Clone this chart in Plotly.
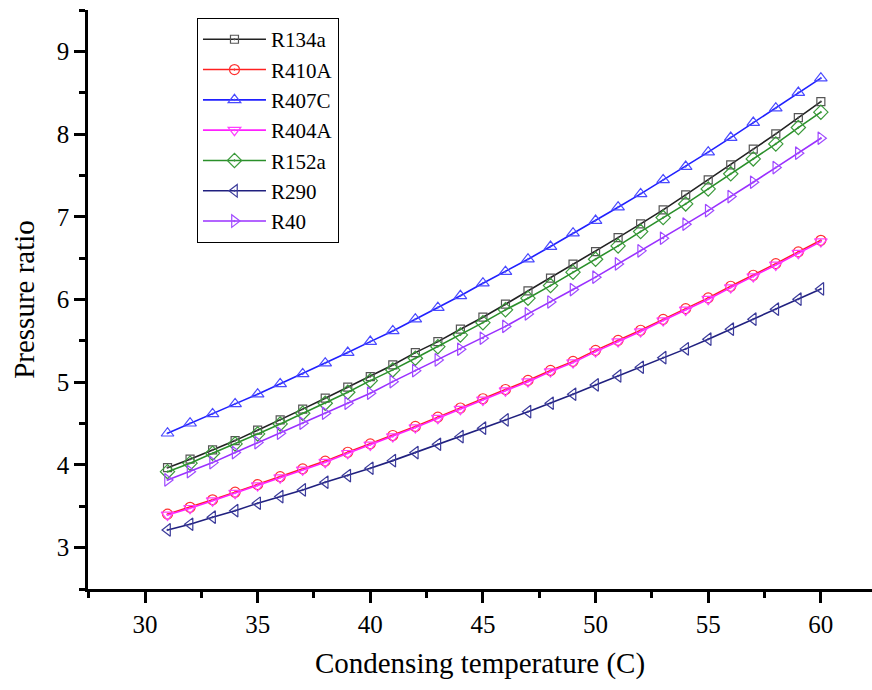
import plotly.graph_objects as go

temps = list(range(31, 61))

r134a = [3.967, 4.069, 4.181, 4.294, 4.420, 4.545, 4.675, 4.807, 4.940, 5.068,
         5.209, 5.358, 5.491, 5.641, 5.786, 5.943, 6.104, 6.258, 6.427, 6.579,
         6.748, 6.914, 7.083, 7.265, 7.446, 7.628, 7.817, 8.002, 8.199, 8.393]
r410a = [3.405, 3.488, 3.578, 3.670, 3.762, 3.858, 3.952, 4.046, 4.153, 4.255,
         4.356, 4.465, 4.578, 4.688, 4.800, 4.912, 5.022, 5.142, 5.252, 5.385,
         5.506, 5.628, 5.760, 5.890, 6.020, 6.160, 6.293, 6.434, 6.576, 6.716]
r407c = [4.383, 4.504, 4.617, 4.738, 4.855, 4.979, 5.100, 5.230, 5.358, 5.491,
         5.620, 5.762, 5.902, 6.045, 6.197, 6.337, 6.487, 6.640, 6.802, 6.954,
         7.116, 7.277, 7.446, 7.607, 7.781, 7.958, 8.139, 8.313, 8.502, 8.676]
r404a = [3.395, 3.476, 3.568, 3.658, 3.750, 3.846, 3.940, 4.033, 4.141, 4.242,
         4.342, 4.451, 4.565, 4.674, 4.786, 4.898, 5.007, 5.128, 5.237, 5.370,
         5.491, 5.612, 5.745, 5.874, 6.004, 6.144, 6.277, 6.418, 6.560, 6.700]
r152a = [3.919, 4.021, 4.141, 4.254, 4.375, 4.496, 4.625, 4.746, 4.879, 5.019,
         5.149, 5.290, 5.430, 5.572, 5.720, 5.875, 6.016, 6.168, 6.330, 6.487,
         6.648, 6.821, 6.990, 7.156, 7.337, 7.519, 7.700, 7.881, 8.079, 8.265]
r290 = [3.214, 3.283, 3.368, 3.447, 3.537, 3.617, 3.698, 3.791, 3.871, 3.960,
        4.052, 4.149, 4.250, 4.342, 4.444, 4.544, 4.644, 4.746, 4.855, 4.967,
        5.076, 5.181, 5.297, 5.403, 5.520, 5.641, 5.762, 5.883, 6.004, 6.128]
r40 = [3.819, 3.919, 4.028, 4.149, 4.270, 4.383, 4.504, 4.625, 4.746, 4.867,
       5.007, 5.140, 5.270, 5.399, 5.532, 5.675, 5.826, 5.970, 6.120, 6.270,
       6.430, 6.588, 6.741, 6.911, 7.075, 7.244, 7.418, 7.595, 7.769, 7.950]

series = [
    ("R134a", r134a, "#222222", "#555555", "square-open-dot", 8),
    ("R410A", r410a, "#ff2020", "#ff3030", "circle-open-dot", 10),
    ("R407C", r407c, "#2020ff", "#4a4aff", "triangle-up-open-dot", 11),
    ("R404A", r404a, "#ff20ff", "#ff40ff", "triangle-down-open-dot", 11),
    ("R152a", r152a, "#2a8f2a", "#3a9a3a", "diamond-open-dot", 11),
    ("R290", r290, "#20207f", "#3a3a9a", "triangle-left-open-dot", 11),
    ("R40", r40, "#9a30ff", "#a04aff", "triangle-right-open-dot", 11),
]

fig = go.Figure()
for name, vals, lc, mc, sym, sz in series:
    fig.add_trace(go.Scatter(
        x=temps, y=vals, name=name, mode="lines+markers",
        line=dict(color=lc, width=1.6),
        marker=dict(symbol=sym, size=sz, color=mc, line=dict(color=mc, width=1.2)),
    ))

FONT = "Liberation Serif"
fig.update_layout(
    width=872, height=690,
    margin=dict(l=88, r=0, t=10, b=101),
    paper_bgcolor="white", plot_bgcolor="white",
    font=dict(family=FONT, size=22, color="black"),
    showlegend=True,
    legend=dict(
        x=0.139, y=0.986, xanchor="left", yanchor="top",
        bgcolor="white", bordercolor="black", borderwidth=1,
        font=dict(family=FONT, size=21, color="black"),
        tracegroupgap=0, itemwidth=63,
    ),
    xaxis=dict(
        range=[27.47, 62.27], showgrid=False, zeroline=False,
        showline=True, linecolor="black", linewidth=2.5,
        ticks="outside", ticklen=11, tickwidth=2.5, tickcolor="black",
        tickvals=[30, 35, 40, 45, 50, 55, 60],
        tickfont=dict(family=FONT, size=25, color="black"),
        minor=dict(ticks="outside", ticklen=6, tickwidth=2.5, tickcolor="black", dtick=2.5, tick0=27.5),
        title=dict(text="Condensing temperature (C)", font=dict(family=FONT, size=29, color="black"), standoff=16),
    ),
    yaxis=dict(
        range=[2.5, 9.5], showgrid=False, zeroline=False,
        showline=True, linecolor="black", linewidth=2.5,
        ticks="outside", ticklen=11, tickwidth=2.5, tickcolor="black",
        tickvals=[3, 4, 5, 6, 7, 8, 9],
        tickfont=dict(family=FONT, size=25, color="black"),
        minor=dict(ticks="outside", ticklen=6, tickwidth=2.5, tickcolor="black", dtick=0.5, tick0=2.5),
        title=dict(text="Pressure ratio", font=dict(family=FONT, size=29, color="black"), standoff=14),
    ),
)

fig.write_html("out.html")
